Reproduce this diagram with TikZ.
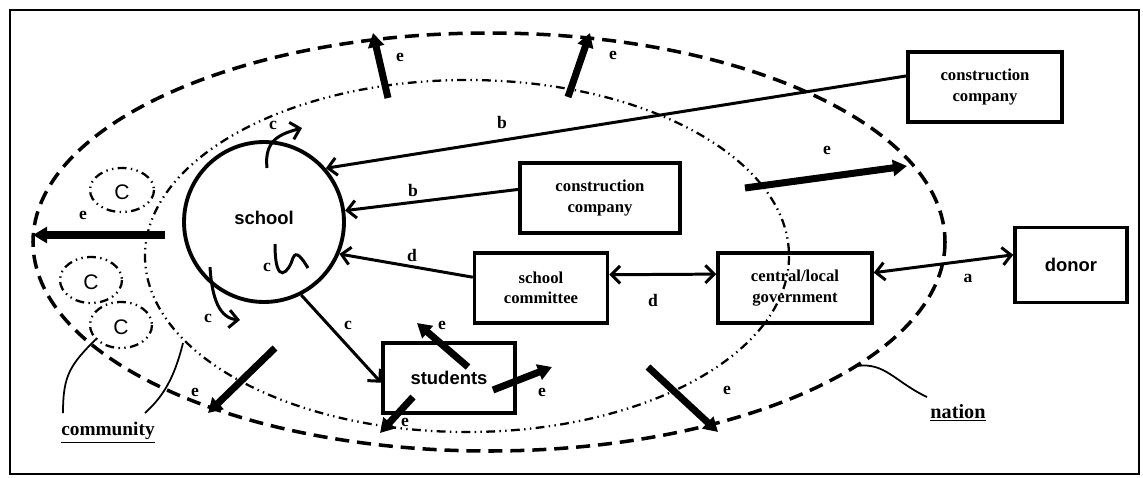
\documentclass[tikz,border=0pt]{standalone}
\usepackage{fontspec}
\setmainfont{Liberation Serif}
\newfontfamily\labelsans{Liberation Sans}
\usetikzlibrary{arrows.meta}

\begin{document}
\begin{tikzpicture}[x=0.02cm,y=-0.02cm,
    actor/.style={draw,line width=2pt,align=center,inner sep=2pt,
      font=\fontsize{9.5}{11.5}\selectfont\bfseries},
    flowlink/.style={line width=1.7pt,-{Straight Barb[length=5pt,width=10pt]}},
    twolink/.style={line width=1.7pt,{Straight Barb[length=5pt,width=10pt]}-{Straight Barb[length=5pt,width=10pt]}},
    spill/.style={line width=4pt,-{Triangle[length=8pt,width=9pt]}},
    tag/.style={font=\fontsize{10}{12}\selectfont\bfseries,inner sep=1pt},
    nationline/.style={line width=2pt,dash pattern=on 8pt off 4.5pt},
    commline/.style={line width=1.3pt,dash pattern=on 5pt off 2.5pt on 0.8pt off 2.5pt on 0.8pt off 2.5pt},
    loop/.style={line width=1.7pt}]
    \useasboundingbox (0,0) rectangle (1143,477);
    \draw[line width=1.5pt] (10,10) rectangle (1139,474);

    % nation and community
    \draw[nationline] (489,242) ellipse (456 and 209);
    \draw[commline] (467,256) ellipse (322 and 176);
    \draw[commline] (122,190) ellipse (32 and 22);
    \draw[commline] (91,280) ellipse (31 and 23);
    \draw[commline] (121,325) ellipse (31 and 23);
    \node[font=\labelsans\fontsize{12}{14}\selectfont] (c1) at (122,192) {C};
    \node[font=\labelsans\fontsize{12}{14}\selectfont] (c2) at (91,282) {C};
    \node[font=\labelsans\fontsize{12}{14}\selectfont] (c3) at (121,327) {C};

    % actors
    \node[draw,circle,line width=2.2pt,minimum size=3.2cm,
      font=\labelsans\fontsize{10.5}{12}\selectfont\bfseries] (school) at (264,222) {\raisebox{5pt}{school}};
    \node[actor,minimum width=3.08cm,minimum height=1.4cm] (cc1) at (985,87) {construction\\company};
    \node[actor,minimum width=3.2cm,minimum height=1.4cm] (cc2) at (600,198) {construction\\company};
    \node[actor,minimum width=2.66cm,minimum height=1.4cm] (committee) at (541,288) {school\\committee};
    \node[actor,minimum width=3.08cm,minimum height=1.4cm] (gov) at (795,288) {central/local\\government};
    \node[actor,minimum width=2.24cm,minimum height=1.5cm,
      font=\labelsans\fontsize{10.5}{12}\selectfont\bfseries] (donor) at (1071,265) {donor};
    \node[actor,minimum width=2.64cm,minimum height=1.4cm,
      font=\labelsans\fontsize{10.5}{12}\selectfont\bfseries] (students) at (449,378) {students};

    % links
    \draw[flowlink] (cc1.172) -- (school.41);
    \draw[flowlink] (cc2.174) -- (school.8);
    \draw[flowlink] (committee.171) -- (school.-23);
    \draw[twolink] (committee.11) -- (gov.170);
    \draw[twolink] (gov.11) -- (donor.170);
    \draw[flowlink] (school.-63) -- (students.184);
    \node[tag] (b1) at (502,122) {b};
    \node[tag] (b2) at (413,190) {b};
    \node[tag] (d1) at (412,255) {d};
    \node[tag] (d2) at (653,300) {d};
    \node[tag] (a1) at (968,278) {a};
    \node[tag] (cs) at (348,325) {c};

    % school loops
    \draw[flowlink] (267,168) .. controls (264,140) and (280,134) .. (302,128);
    \draw[loop] (275,244) .. controls (275,288) and (289,272) .. (293,258)
      .. controls (296,250) and (302,258) .. (308,268);
    \draw[flowlink] (210,267) .. controls (212,300) and (220,318) .. (240,320);
    \node[tag] (ct) at (273,125) {c};
    \node[tag] (ci) at (267,267) {c};
    \node[tag] (cb) at (208,318) {c};

    % outflows
    \foreach \sx/\sy/\ex/\ey/\lx/\ly in {388/98/373/33/400/57, 568/97/590/33/613/55,
        745/188/907/166/827/150, 165/235/33/235/83/215, 275/348/208/413/195/392,
        648/367/718/432/727/390, 468/367/417/323/442/325, 493/390/552/367/542/392,
        413/397/380/433/405/422}
      {\draw[spill] (\sx,\sy) -- (\ex,\ey);
       \node[tag] at (\lx,\ly) {e};}

    % labels
    \node[font=\fontsize{11}{13}\selectfont\bfseries] (community) at (108,433) {\underline{community}};
    \node[font=\fontsize{11.5}{13}\selectfont\bfseries] (nation) at (958,413) {\underline{nation}};
    \draw[line width=1pt] (97,338) .. controls (70,365) and (63,375) .. (63,413);
    \draw[line width=1pt] (183,343) .. controls (175,375) and (165,395) .. (145,413);
    \draw[line width=1pt] (857,366) .. controls (885,362) and (895,382) .. (927,397);
\end{tikzpicture}
\end{document}
